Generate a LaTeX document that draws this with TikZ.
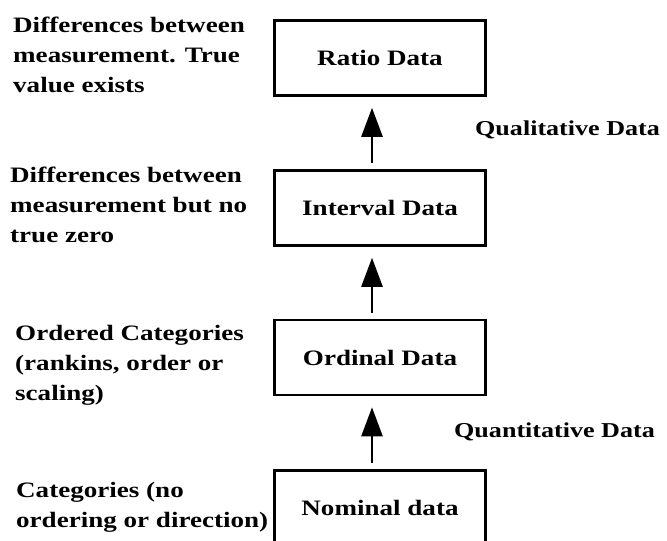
\documentclass[tikz,border=0pt]{standalone}
\usepackage{fontspec}
\setmainfont{Liberation Serif}[FakeStretch=1.23]
\usetikzlibrary{arrows.meta}
\begin{document}
\begin{tikzpicture}[x=1pt,y=-1pt,
  every node/.style={font=\fontsize{22}{30}\selectfont\bfseries},
  databox/.style={draw, line width=2.6pt, minimum width=211pt, minimum height=75pt, inner sep=0pt},
  desc/.style={align=left, anchor=base west, inner sep=0pt},
  sidelabel/.style={anchor=base west, inner sep=0pt, font=\fontsize{21.2}{30}\selectfont\bfseries},
  uparrow/.style={line width=2.6pt, -{Triangle[width=21pt,length=29pt]}, shorten <=6pt, shorten >=11pt}]
\useasboundingbox (0,0) rectangle (667,541);
\clip (0,0) rectangle (667,541);
\node[databox] (ratio) at (380,58) {Ratio Data};
\node[databox] (interval) at (380,208) {Interval Data};
\node[databox] (ordinal) at (380,357.5) {Ordinal Data};
\node[databox] (nominal) at (380,508) {Nominal data};
\draw[uparrow] ([xshift=-8pt]interval.north) -- ([xshift=-8pt]ratio.south);
\draw[uparrow] ([xshift=-8pt]ordinal.north) -- ([xshift=-8pt]interval.south);
\draw[uparrow] ([xshift=-8pt]nominal.north) -- ([xshift=-8pt]ordinal.south);
\node[desc] (d1) at (13,92) {Differences between\\measurement. True\\value exists};
\node[desc] (d2) at (10,242) {Differences between\\measurement but no\\true zero};
\node[desc] (d3) at (15,400) {Ordered Categories\\(rankins, order or\\scaling)};
\node[desc] (d4) at (16,527) {Categories (no\\ordering or direction)};
\node[sidelabel] (ql) at (475,135) {Qualitative Data};
\node[sidelabel] (qn) at (454,437) {Quantitative Data};
\end{tikzpicture}
\end{document}
